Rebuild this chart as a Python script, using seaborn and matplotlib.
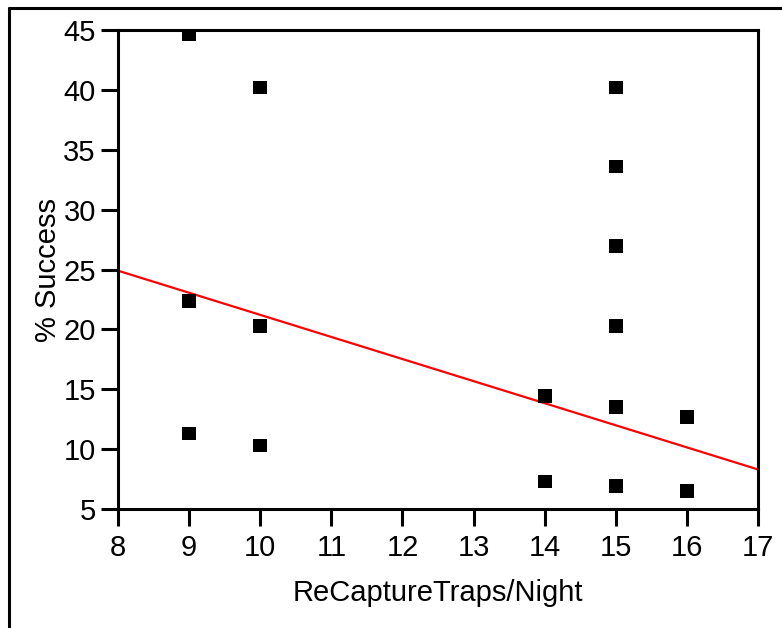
import numpy as np
import pandas as pd
import matplotlib
matplotlib.use("Agg")
import matplotlib.pyplot as plt
import seaborn as sns
from matplotlib.lines import Line2D

# data
recapture_traps = [9, 9, 9, 10, 10, 10, 14, 14, 15, 15, 15, 15, 15, 15, 16, 16]
success_pct = [44.7, 22.4, 11.3, 40.2, 20.3, 10.3, 14.4, 7.3,
               40.2, 33.6, 27.0, 20.3, 13.5, 6.9, 12.7, 6.5]
fit_x = [8, 17]
fit_y = [24.9, 8.3]
x_ticks = list(range(8, 18))
y_ticks = list(range(5, 50, 5))

sns.set_theme(style="ticks")
plt.rcParams["font.family"] = ["Liberation Sans", "DejaVu Sans"]
plt.rcParams["text.color"] = "black"
plt.rcParams["axes.labelcolor"] = "black"

df = pd.DataFrame({"traps": recapture_traps, "success": success_pct})
fit = pd.DataFrame({"x": fit_x, "y": fit_y})

fig = plt.figure(figsize=(7.82, 6.28), dpi=100)
ax = fig.add_axes([0.1509, 0.1895, 0.8184, 0.7627])

sns.lineplot(data=fit, x="x", y="y", color="red", linewidth=1.6, ax=ax, zorder=2)
sns.scatterplot(data=df, x="traps", y="success", marker="s", s=100, color="black",
                edgecolor="none", ax=ax, zorder=3)

ax.set_xlim(8, 17)
ax.set_ylim(5, 45)
ax.set_xticks(x_ticks)
ax.set_yticks(y_ticks)
ax.tick_params(axis="both", which="major", direction="out", length=12, width=2.2,
               labelsize=21, pad=4, colors="black", top=False, right=False)
ax.tick_params(axis="x", pad=6)
for sp in ax.spines.values():
    sp.set_linewidth(2.2)
    sp.set_color("black")
    sp.set_visible(True)

ax.set_xlabel("ReCaptureTraps/Night", fontsize=21, labelpad=12)
ax.set_ylabel("% Success", fontsize=21, labelpad=1)

# outer frame (top and left edges)
fig.add_artist(Line2D([0.0115, 1.0], [0.9873, 0.9873], transform=fig.transFigure,
                      color="black", linewidth=2.2))
fig.add_artist(Line2D([0.0115, 0.0115], [0.0, 0.9873], transform=fig.transFigure,
                      color="black", linewidth=2.2))

fig.savefig("out.png", dpi=100)
